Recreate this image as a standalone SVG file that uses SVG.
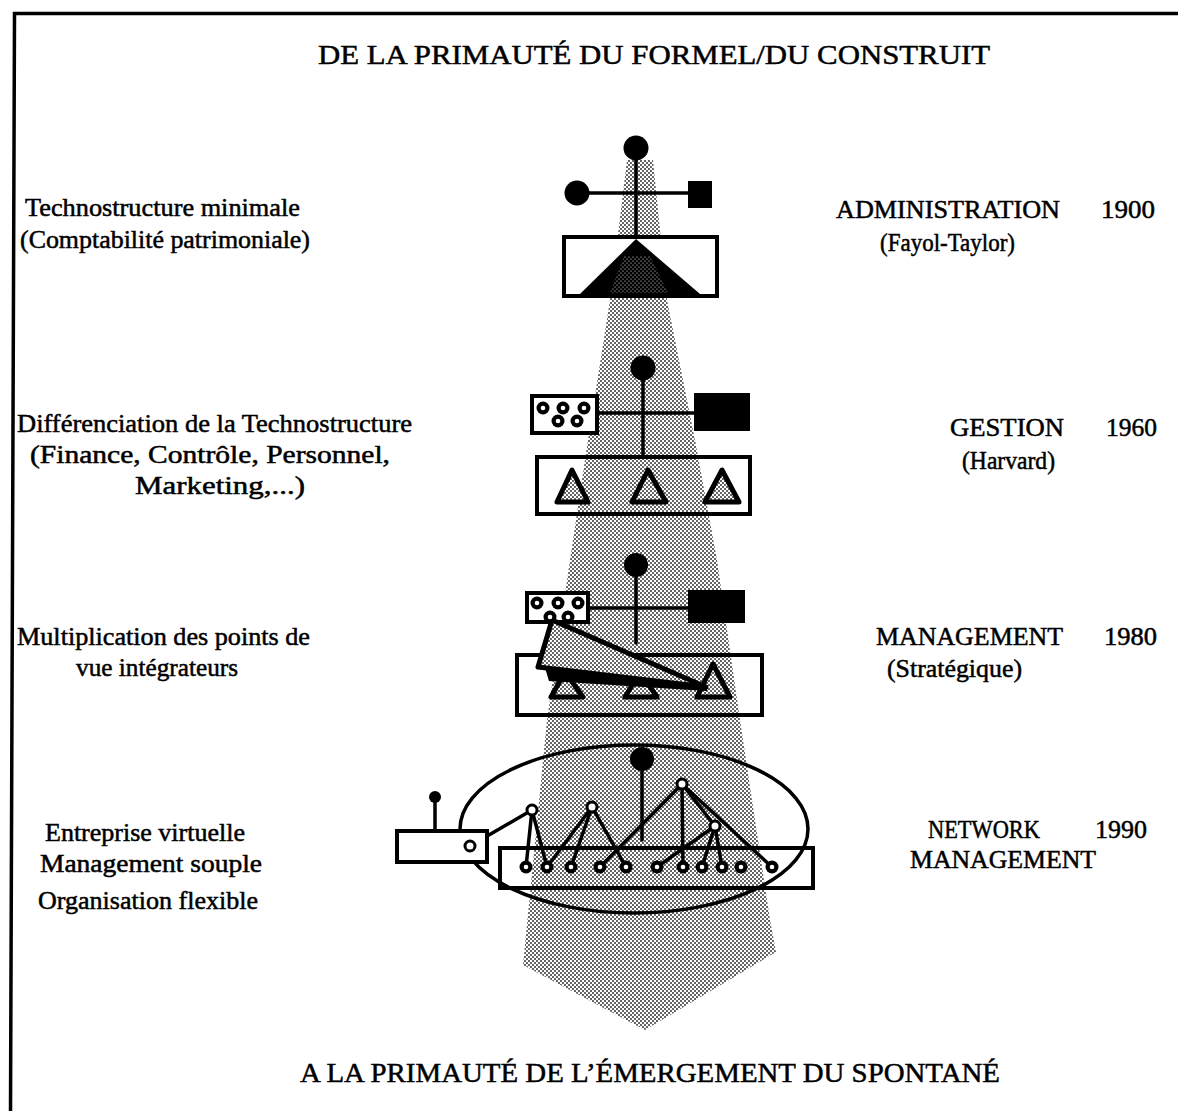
<svg xmlns="http://www.w3.org/2000/svg" width="1178" height="1111" viewBox="0 0 1178 1111">
<style>
text{font-family:"Liberation Serif","Times New Roman",serif;fill:#000;stroke:#000;stroke-width:0.5}
.lbl{font-size:25px}
.ttl{font-size:28px}
.ln{stroke:#000;stroke-width:3.5;fill:none;stroke-linecap:round}
.box{stroke:#000;stroke-width:4;fill:none}
.wbox{stroke:#000;stroke-width:4;fill:#fff}
.tri{stroke:#000;stroke-width:5;fill:url(#dots);stroke-linejoin:round}
.blk{fill:#000}
.open{fill:#fff;stroke:#000;stroke-width:3}
</style>
<defs>
<pattern id="dots" width="4" height="4" patternUnits="userSpaceOnUse">
<rect width="4" height="4" fill="#fff"/>
<circle cx="1" cy="1" r="0.95" fill="#222"/>
<circle cx="3" cy="3" r="0.95" fill="#222"/>
</pattern>
<pattern id="dots2" width="4" height="4" patternUnits="userSpaceOnUse">
<rect width="4" height="4" fill="#000"/>
<circle cx="1" cy="1" r="0.55" fill="#fff"/>
<circle cx="3" cy="3" r="0.55" fill="#fff"/>
</pattern>
<g id="bnode"><circle r="6.5" fill="#000"/><circle r="2.3" fill="#fff"/></g>
</defs>
<rect width="1178" height="1111" fill="#fff"/>
<g id="frame"><polyline points="1178,13.5 14.5,13.5 10.5,1111" fill="none" stroke="#000" stroke-width="3.5"/></g>
<g id="beam"><polygon points="627,160 610,300 588,440 570,560 547,720 523,965 645,1030 776,952 770,920 740,720 717,560 695,440 667,300 653,160" fill="url(#dots)"/></g>
<g id="titles">
<text class="ttl" x="318" y="64" textLength="672" lengthAdjust="spacingAndGlyphs">DE LA PRIMAUTÉ DU FORMEL/DU CONSTRUIT</text>
<text class="ttl" x="300" y="1082" textLength="700" lengthAdjust="spacingAndGlyphs">A LA PRIMAUTÉ DE L’ÉMERGEMENT DU SPONTANÉ</text>
</g>
<g id="left-labels" class="lbl">
<text x="25" y="216" textLength="275" lengthAdjust="spacingAndGlyphs">Technostructure minimale</text>
<text x="20" y="248" textLength="290" lengthAdjust="spacingAndGlyphs">(Comptabilité patrimoniale)</text>
<text x="17" y="432" textLength="395" lengthAdjust="spacingAndGlyphs">Différenciation de la Technostructure</text>
<text x="30" y="463" textLength="360" lengthAdjust="spacingAndGlyphs">(Finance, Contrôle, Personnel,</text>
<text x="135" y="494" textLength="170" lengthAdjust="spacingAndGlyphs">Marketing,...)</text>
<text x="17" y="645" textLength="293" lengthAdjust="spacingAndGlyphs">Multiplication des points de</text>
<text x="76" y="676" textLength="162" lengthAdjust="spacingAndGlyphs">vue intégrateurs</text>
<text x="45" y="841" textLength="200" lengthAdjust="spacingAndGlyphs">Entreprise virtuelle</text>
<text x="40" y="872" textLength="222" lengthAdjust="spacingAndGlyphs">Management souple</text>
<text x="38" y="909" textLength="220" lengthAdjust="spacingAndGlyphs">Organisation flexible</text>
</g>
<g id="right-labels" class="lbl">
<text x="836" y="218" textLength="224" lengthAdjust="spacingAndGlyphs">ADMINISTRATION</text>
<text x="880" y="251" textLength="135" lengthAdjust="spacingAndGlyphs">(Fayol-Taylor)</text>
<text x="1101" y="218" textLength="54" lengthAdjust="spacingAndGlyphs">1900</text>
<text x="950" y="436" textLength="114" lengthAdjust="spacingAndGlyphs">GESTION</text>
<text x="962" y="469" textLength="93" lengthAdjust="spacingAndGlyphs">(Harvard)</text>
<text x="1106" y="436" textLength="51" lengthAdjust="spacingAndGlyphs">1960</text>
<text x="876" y="645" textLength="187" lengthAdjust="spacingAndGlyphs">MANAGEMENT</text>
<text x="887" y="677" textLength="135" lengthAdjust="spacingAndGlyphs">(Stratégique)</text>
<text x="1104" y="645" textLength="53" lengthAdjust="spacingAndGlyphs">1980</text>
<text x="928" y="838" textLength="112" lengthAdjust="spacingAndGlyphs">NETWORK</text>
<text x="910" y="868" textLength="186" lengthAdjust="spacingAndGlyphs">MANAGEMENT</text>
<text x="1095" y="838" textLength="52" lengthAdjust="spacingAndGlyphs">1990</text>
</g>
<g id="connectors">
<line class="ln" x1="636" y1="148" x2="636" y2="237"/>
<line class="ln" x1="577" y1="193" x2="690" y2="193"/>
<line class="ln" x1="643" y1="368" x2="643" y2="457"/>
<line class="ln" x1="597" y1="413" x2="694" y2="413"/>
<line class="ln" x1="636" y1="565" x2="636" y2="643"/>
<line class="ln" x1="588" y1="608" x2="688" y2="608"/>
<line class="ln" x1="642" y1="759" x2="642" y2="840"/>
<line class="ln" x1="435" y1="797" x2="435" y2="831"/>
<line class="ln" x1="470" y1="846" x2="532" y2="810"/>
<line class="ln" x1="532" y1="810" x2="526" y2="867"/>
<line class="ln" x1="532" y1="810" x2="547" y2="867"/>
<line class="ln" x1="592" y1="807" x2="547" y2="867"/>
<line class="ln" x1="592" y1="807" x2="571" y2="867"/>
<line class="ln" x1="592" y1="807" x2="626" y2="867"/>
<line class="ln" x1="682" y1="784" x2="600" y2="867"/>
<line class="ln" x1="682" y1="784" x2="683" y2="867"/>
<line class="ln" x1="682" y1="784" x2="772" y2="867"/>
<line class="ln" x1="682" y1="784" x2="715" y2="826"/>
<line class="ln" x1="715" y1="826" x2="657" y2="867"/>
<line class="ln" x1="715" y1="826" x2="702" y2="867"/>
<line class="ln" x1="715" y1="826" x2="722" y2="867"/>
</g>
<g id="level-1900">
<rect class="wbox" x="564" y="237" width="153" height="59"/>
<polygon points="636,239 580,294 700,294" fill="#000"/>
<polygon points="624,256 650,256 668,293 610,293" fill="url(#dots2)"/>
<circle cx="636" cy="148" r="12.5" class="blk"/>
<circle cx="577" cy="193" r="12.5" class="blk"/>
<rect x="688" y="181" width="24" height="27" class="blk"/>
</g>
<g id="level-1960">
<rect class="box" x="537" y="457" width="213" height="57"/>
<polygon class="tri" points="572,470 557,502 588,502"/>
<polygon class="tri" points="648,470 632,502 666,502"/>
<polygon class="tri" points="722,470 705,502 739,502"/>
<circle cx="643" cy="368" r="12.5" class="blk"/>
<rect class="wbox" x="532" y="396" width="65" height="37"/>
<use href="#bnode" x="543" y="408"/><use href="#bnode" x="563" y="408"/><use href="#bnode" x="584" y="408"/>
<use href="#bnode" x="558" y="421"/><use href="#bnode" x="577" y="421"/>
<rect x="694" y="393" width="56" height="38" class="blk"/>
</g>
<g id="level-1980">
<rect class="box" x="517" y="655" width="245" height="60"/>
<polygon class="tri" points="565,672 551,697 583,697"/>
<polygon class="tri" points="640,672 625,697 657,697"/>
<polygon class="tri" points="713,664 697,697 730,697"/>
<circle cx="636" cy="565" r="12" class="blk"/>
<rect class="wbox" x="527" y="593" width="61" height="29"/>
<use href="#bnode" x="537" y="603"/><use href="#bnode" x="558" y="603"/><use href="#bnode" x="578" y="603"/>
<polygon points="545,668 549,681 707,691 707,686" fill="#000"/>
<polygon class="tri" points="552,620 538,667 706,687"/>
<use href="#bnode" x="550" y="617"/><use href="#bnode" x="568" y="617"/>
<rect x="688" y="590" width="57" height="33" class="blk"/>
</g>
<g id="level-1990">
<ellipse cx="634" cy="829" rx="174" ry="84" fill="none" stroke="#000" stroke-width="3.5"/>
<rect class="wbox" x="397" y="831" width="90" height="31"/>
<rect class="box" x="500" y="848" width="313" height="40"/>
<circle cx="642" cy="759" r="12" class="blk"/>
<circle cx="435" cy="797" r="6" class="blk"/>
<circle class="open" cx="470" cy="846" r="5"/>
<circle class="open" cx="532" cy="810" r="5"/>
<circle class="open" cx="592" cy="807" r="5"/>
<circle class="open" cx="682" cy="784" r="5"/>
<circle class="open" cx="715" cy="826" r="5"/>
<use href="#bnode" x="526" y="867"/><use href="#bnode" x="547" y="867"/><use href="#bnode" x="571" y="867"/>
<use href="#bnode" x="600" y="867"/><use href="#bnode" x="626" y="867"/><use href="#bnode" x="657" y="867"/>
<use href="#bnode" x="683" y="867"/><use href="#bnode" x="702" y="867"/><use href="#bnode" x="722" y="867"/>
<use href="#bnode" x="741" y="867"/><use href="#bnode" x="772" y="867"/>
</g>
</svg>
